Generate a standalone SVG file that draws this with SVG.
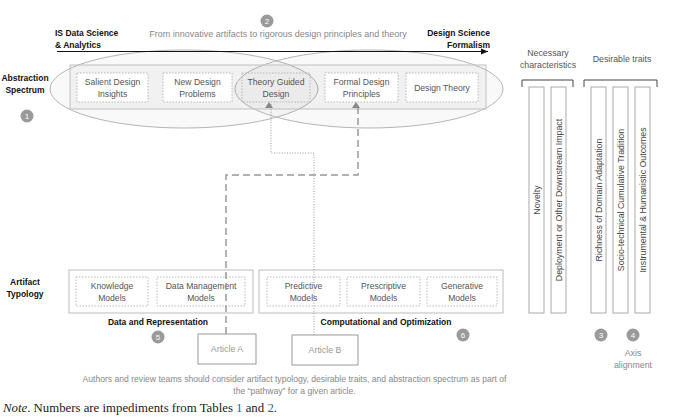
<svg xmlns="http://www.w3.org/2000/svg" width="677" height="418" viewBox="0 0 677 418">
<defs>
<style>
text{font-family:"Liberation Sans",Arial,sans-serif;}
.lbl{font-size:8.6px;fill:#555;text-anchor:middle;}
.bold{font-size:8.5px;font-weight:bold;fill:#111;}
.gray{font-size:8.6px;fill:#888;text-anchor:middle;}
.box{fill:#fff;stroke:#aaa;stroke-width:0.8;stroke-dasharray:1.5,1.5;}
.grp{fill:#fff;stroke:#bbb;stroke-width:1;}
.bar{fill:#fff;stroke:#aaa;stroke-width:1;}
.vt{font-size:8.8px;fill:#444;text-anchor:middle;}
.num circle{fill:#9a9a9a;}
.num text{font-size:8px;fill:#fff;text-anchor:middle;}
.art{fill:#fff;stroke:#999;stroke-width:1;}
.artt{font-size:8.8px;fill:#999;text-anchor:middle;}
.note{font-family:"Liberation Serif","Times New Roman",serif;font-size:12.8px;fill:#222;}
</style>
<marker id="blk" markerWidth="8" markerHeight="8" refX="7" refY="4" orient="auto" markerUnits="userSpaceOnUse">
<path d="M0,1 L7,4 L0,7 Z" fill="#111"/>
</marker>
<marker id="gry" markerWidth="8" markerHeight="8" refX="4" refY="6" orient="auto" markerUnits="userSpaceOnUse">
<path d="M0,0 L8,0 L4,6 Z" transform="rotate(-90 4 4)" fill="#888"/>
</marker>
</defs>
<rect width="677" height="418" fill="#fff"/>

<!-- Abstraction spectrum -->
<g id="spectrum-ellipses">
<ellipse cx="184" cy="89" rx="134" ry="39" fill="#000" fill-opacity="0.025" stroke="#b5b5b5" stroke-width="1"/>
<ellipse cx="369" cy="89" rx="134" ry="39" fill="#000" fill-opacity="0.025" stroke="#b5b5b5" stroke-width="1"/>
</g>
<g id="spectrum-band">
<rect x="70" y="65" width="416" height="44" fill="#000" fill-opacity="0.03" stroke="#c0c0c0" stroke-width="1"/>
</g>
<g id="n-salient"><rect class="box" x="77" y="73" width="71" height="29"/><text class="lbl" x="112.5" y="85">Salient Design</text><text class="lbl" x="112.5" y="96.5">Insights</text></g>
<g id="n-newproblems"><rect class="box" x="163" y="73" width="69" height="29"/><text class="lbl" x="197.5" y="85">New Design</text><text class="lbl" x="197.5" y="96.5">Problems</text></g>
<g id="n-theoryguided"><rect class="box" x="242" y="73" width="68" height="29" fill-opacity="0"/><text class="lbl" x="276" y="85">Theory Guided</text><text class="lbl" x="276" y="96.5">Design</text></g>
<g id="n-formal"><rect class="box" x="325" y="73" width="73" height="29"/><text class="lbl" x="361.5" y="85">Formal Design</text><text class="lbl" x="361.5" y="96.5">Principles</text></g>
<g id="n-designtheory"><rect class="box" x="406" y="73" width="72" height="29"/><text class="lbl" x="442" y="91">Design Theory</text></g>

<g id="headings">
<text class="bold" x="55" y="36">IS Data Science</text>
<text class="bold" x="55" y="47.5">&amp; Analytics</text>
<text class="bold" x="490" y="36" text-anchor="end">Design Science</text>
<text class="bold" x="490" y="47.5" text-anchor="end">Formalism</text>
<text class="gray" x="278" y="37" style="font-size:9px">From innovative artifacts to rigorous design principles and theory</text>
<text class="bold" x="25" y="81" text-anchor="middle">Abstraction</text>
<text class="bold" x="25" y="93" text-anchor="middle">Spectrum</text>
<text class="bold" x="25" y="285" text-anchor="middle">Artifact</text>
<text class="bold" x="25" y="297" text-anchor="middle">Typology</text>
<text class="bold" x="158" y="325" text-anchor="middle">Data and Representation</text>
<text class="bold" x="386" y="325" text-anchor="middle">Computational and Optimization</text>
</g>

<!-- Artifact typology -->
<g id="grp-data"><rect class="grp" x="69" y="270" width="184" height="43"/></g>
<g id="grp-comp"><rect class="grp" x="259" y="270" width="244" height="43"/></g>
<g id="n-knowledge"><rect class="box" x="76" y="277" width="72" height="29"/><text class="lbl" x="112" y="289">Knowledge</text><text class="lbl" x="112" y="300.5">Models</text></g>
<g id="n-datamgmt"><rect class="box" x="157" y="277" width="88" height="29"/><text class="lbl" x="201" y="289">Data Management</text><text class="lbl" x="201" y="300.5">Models</text></g>
<g id="n-predictive"><rect class="box" x="267" y="277" width="73" height="29"/><text class="lbl" x="303.5" y="289">Predictive</text><text class="lbl" x="303.5" y="300.5">Models</text></g>
<g id="n-prescriptive"><rect class="box" x="347" y="277" width="73" height="29"/><text class="lbl" x="383.5" y="289">Prescriptive</text><text class="lbl" x="383.5" y="300.5">Models</text></g>
<g id="n-generative"><rect class="box" x="427" y="277" width="70" height="29"/><text class="lbl" x="462" y="289">Generative</text><text class="lbl" x="462" y="300.5">Models</text></g>

<!-- Connectors -->
<g id="connectors" fill="none">
<path d="M226,334 V175 H358 V104" stroke="#999" stroke-width="1.5" stroke-dasharray="7,4" marker-end="url(#gry)"/>
<path d="M314,335 V153 H271 V104" stroke="#999" stroke-width="1" stroke-dasharray="1,1.6" marker-end="url(#gry)"/>
<line x1="57" y1="51.5" x2="488" y2="51.5" stroke="#111" stroke-width="1" marker-end="url(#blk)"/>
</g>

<g id="n-articleA"><rect class="art" x="198" y="334" width="58" height="30"/><text class="artt" x="227" y="352">Article A</text></g>
<g id="n-articleB"><rect class="art" x="292" y="335" width="66" height="30"/><text class="artt" x="325" y="353">Article B</text></g>

<!-- Traits -->
<g id="traits-heads">
<text class="lbl" x="548" y="56" style="font-size:8.8px">Necessary</text>
<text class="lbl" x="548" y="68" style="font-size:8.8px">characteristics</text>
<text class="lbl" x="622" y="62" style="font-size:8.8px">Desirable traits</text>
<path d="M522,87 V80 H573 V87 M584,87 V80 H657 V87" fill="none" stroke="#444" stroke-width="1"/>
</g>
<g id="bar-novelty"><rect class="bar" x="529" y="87" width="15" height="226"/><text class="vt" transform="translate(539.5,200) rotate(-90)">Novelty</text></g>
<g id="bar-deploy"><rect class="bar" x="551" y="87" width="15" height="226"/><text class="vt" transform="translate(561.5,200) rotate(-90)">Deployment or Other Downstream Impact</text></g>
<g id="bar-richness"><rect class="bar" x="591" y="87" width="15" height="226"/><text class="vt" transform="translate(601.5,200) rotate(-90)">Richness of Domain Adaptation</text></g>
<g id="bar-socio"><rect class="bar" x="613" y="87" width="15" height="226"/><text class="vt" transform="translate(623.5,200) rotate(-90)">Socio-technical Cumulative Tradition</text></g>
<g id="bar-instr"><rect class="bar" x="635" y="87" width="15" height="226"/><text class="vt" transform="translate(645.5,200) rotate(-90)">Instrumental &amp; Humanistic Outcomes</text></g>

<!-- Numbers -->
<g class="num" id="num1"><circle cx="27" cy="116" r="6.5"/><text x="27" y="119">1</text></g>
<g class="num" id="num2"><circle cx="267" cy="21" r="6.5"/><text x="267" y="24">2</text></g>
<g class="num" id="num3"><circle cx="601" cy="335" r="6.5"/><text x="601" y="338">3</text></g>
<g class="num" id="num4"><circle cx="633" cy="335" r="6.5"/><text x="633" y="338">4</text></g>
<g class="num" id="num5"><circle cx="158" cy="337" r="6.5"/><text x="158" y="340">5</text></g>
<g class="num" id="num6"><circle cx="463" cy="335" r="6.5"/><text x="463" y="338">6</text></g>
<text class="gray" x="633" y="356" style="font-size:8.8px">Axis</text>
<text class="gray" x="633" y="368" style="font-size:8.8px">alignment</text>

<g id="captions">
<text class="gray" x="294.5" y="382">Authors and review teams should consider artifact typology, desirable traits, and abstraction spectrum as part of</text>
<text class="gray" x="294.5" y="394">the “pathway” for a given article.</text>
<text class="note" x="3" y="412"><tspan font-style="italic">Note</tspan>.  Numbers are impediments from Tables <tspan fill="#2a5db0">1</tspan> and <tspan fill="#2a5db0">2</tspan>.</text>
</g>
</svg>
